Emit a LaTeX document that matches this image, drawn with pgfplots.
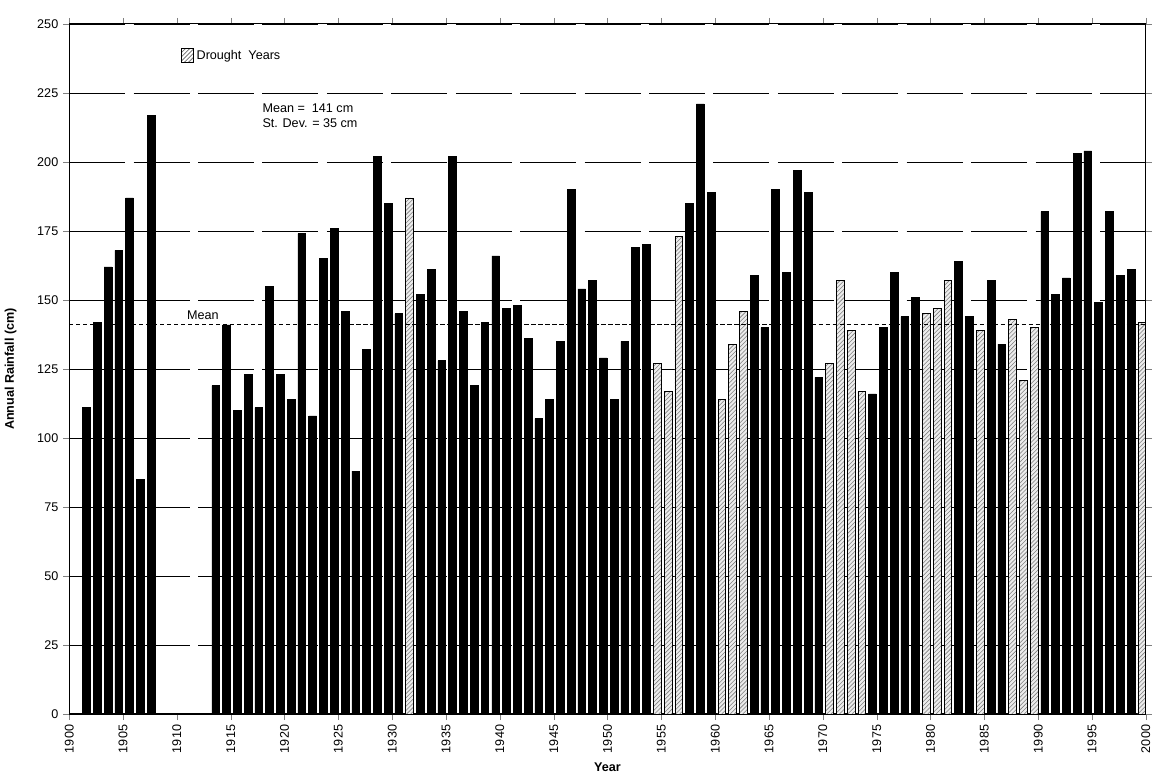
\documentclass[border=0pt]{standalone}
\usepackage{pgfplots}
\pgfplotsset{compat=1.18}
\usepackage{fontspec}
\setmainfont{Liberation Sans}
\usetikzlibrary{patterns}
\begin{document}
\begin{tikzpicture}
\begin{axis}[width=28.6cm,height=18.9cm,
 xmin=1900,xmax=2000,ymin=0,ymax=250,
 ytick={0,25,...,250},xtick={1900,1905,...,2000},
 xticklabel style={rotate=90,anchor=east,font=\small},
 yticklabel style={font=\small},
 /pgf/number format/assume math mode=true,
 /pgf/number format/1000 sep={},
 ymajorgrids,grid style={black,dash pattern=on 40pt off 6pt,line width=0.5pt},
 xlabel={\textbf{Year}},ylabel={\textbf{Annual Rainfall (cm)}},
 label style={font=\small},
 ylabel style={yshift=8pt},
 tick align=outside,
 axis line style={line width=0.8pt},
 legend style={at={(0.1,0.97)},anchor=north west,draw=none,font=\small},
 legend image code/.code={\draw[pattern=north east lines,pattern color=gray,draw=black] (0cm,-0.15cm) rectangle (0.3cm,0.2cm);},
]
\addplot[ybar,bar width=0.72,bar shift=-3pt,fill=black,draw=black,forget plot] coordinates {
(1902,111)(1903,142)(1904,162)(1905,168)(1906,187)(1907,85)(1908,217)
(1914,119)(1915,141)(1916,110)(1917,123)(1918,111)(1919,155)(1920,123)(1921,114)(1922,174)(1923,108)(1924,165)(1925,176)(1926,146)(1927,88)(1928,132)(1929,202)(1930,185)(1931,145)
(1933,152)(1934,161)(1935,128)(1936,202)(1937,146)(1938,119)(1939,142)(1940,166)(1941,147)(1942,148)(1943,136)(1944,107)(1945,114)(1946,135)(1947,190)(1948,154)(1949,157)(1950,129)(1951,114)(1952,135)(1953,169)(1954,170)
(1958,185)(1959,221)(1960,189)(1964,159)(1965,140)(1966,190)(1967,160)(1968,197)(1969,189)(1970,122)
(1975,116)(1976,140)(1977,160)(1978,144)(1979,151)(1983,164)(1984,144)(1986,157)(1987,134)
(1991,182)(1992,152)(1993,158)(1994,203)(1995,204)(1996,149)(1997,182)(1998,159)(1999,161)};
\addplot[ybar,bar width=0.72,bar shift=-3pt,fill=gray!15,draw=black,postaction={pattern=north east lines,pattern color=gray}] coordinates {
(1932,187)(1955,127)(1956,117)(1957,173)(1961,114)(1962,134)(1963,146)
(1971,127)(1972,157)(1973,139)(1974,117)(1980,145)(1981,147)(1982,157)(1985,139)(1988,143)(1989,121)(1990,140)(2000,142)};
\addlegendentry{Drought\ \ Years}
\draw[densely dashed,line width=0.6pt] (axis cs:1900,141) -- (axis cs:2000,141);
\node[anchor=south west,font=\small] at (axis cs:1910.5,141) {Mean};
\node[anchor=north west,font=\small,align=left] at (axis cs:1917.5,223) {Mean =\ \ 141 cm\\St. Dev. = 35 cm};
\end{axis}
\path (current axis.north west) ++(0,0.6cm) coordinate (t);
\path (t) -- (current axis.north west);
\end{tikzpicture}
\end{document}
